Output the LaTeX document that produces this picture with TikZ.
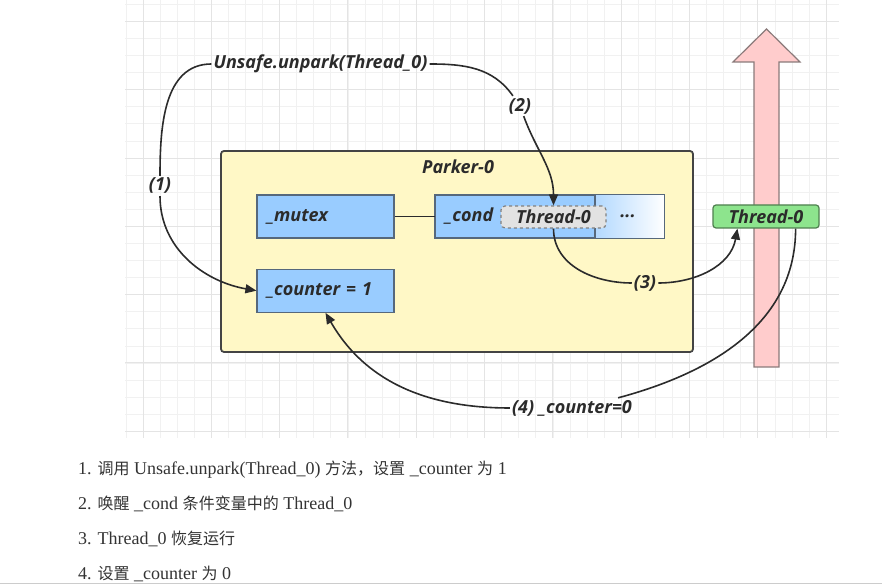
\documentclass[tikz,border=0pt]{standalone}
\usepackage{fontspec}
\setmainfont{Liberation Serif}
\newfontfamily\diafont{Open Sans}
\newfontfamily\cjk[Scale=0.89]{Noto Sans CJK SC}
\usetikzlibrary{positioning,arrows.meta}

\definecolor{gridminor}{HTML}{F1F1F1}
\definecolor{gridmajor}{HTML}{E4E4E4}
\definecolor{inkdark}{HTML}{2B2B2B}
\definecolor{boxline}{HTML}{444444}
\definecolor{parkeryellow}{HTML}{FFF8C6}
\definecolor{fieldblue}{HTML}{99CCFF}
\definecolor{fieldline}{HTML}{56687C}
\definecolor{waitgray}{HTML}{E2E2E2}
\definecolor{threadgreen}{HTML}{8DE48D}
\definecolor{greenline}{HTML}{4F7F4F}
\definecolor{lanepink}{HTML}{FFCCCC}
\definecolor{lanegray}{HTML}{8A7A7A}
\definecolor{notegray}{HTML}{333333}

\begin{document}
\begin{tikzpicture}[x=1pt,y=1pt,
    every node/.style={font=\diafont\bfseries\itshape\fontsize{18}{21}\selectfont, text=inkdark, inner sep=2pt},
    field/.style={draw=fieldline, fill=fieldblue, line width=1.2pt, minimum height=43pt,
      inner xsep=10pt, text width=#1, align=left},
    flow/.style={draw=inkdark, line width=1.6pt},
    flowtip/.style={-{Triangle[length=11pt,width=9pt]}},
    note/.style={font=\fontsize{18}{22}\selectfont, text=notegray, anchor=base west, inner sep=0pt}]

    \useasboundingbox (0,0) rectangle (882,585);

    % Background grid
    \foreach \k in {-1,...,40}
      \draw[gridminor, line width=0.8pt] ({143+\k*17.08},147) -- ({143+\k*17.08},585);
    \foreach \m in {-4,...,21}
      \draw[gridminor, line width=0.8pt] (125,{222+\m*17.08}) -- (839,{222+\m*17.08});
    \foreach \k in {0,4,...,40}
      \draw[gridmajor, line width=1pt] ({143+\k*17.08},147) -- ({143+\k*17.08},585);
    \foreach \m in {-4,0,...,20}
      \draw[gridmajor, line width=1pt] (125,{222+\m*17.08}) -- (839,{222+\m*17.08});

    % Thread lane
    \draw[fill=lanepink, draw=lanegray, line width=1.2pt]
      (754,218) -- (754,523) -- (733,523) -- (766.5,556) -- (800,523) -- (779,523) -- (779,218) -- cycle;

    % Parker
    \node[draw=boxline, fill=parkeryellow, line width=1.8pt, rounded corners=3pt,
      minimum width=472pt, minimum height=201pt] (parker) at (457,333.5) {};
    \node (ptitle) at (458,418) {Parker-0};

    \node[field=117pt] (mutex) at (325.5,368.5) {\_mutex};
    \node[field=117pt, below=30pt of mutex] (counter) {\_counter = 1};
    \node[field=209pt, right=40pt of mutex] (cond) {\_cond};
    \shade[left color=fieldblue!75!white, right color=white] (595,347) rectangle (cond.north east);
    \draw[fieldline, line width=1.2pt] (595,347) -- (595,390);
    \draw[fieldline, line width=1.2pt] (cond.north west) rectangle (cond.south east);
    \node[draw=gray, dashed, line width=1.2pt, fill=waitgray, rounded corners=4pt,
      minimum width=105pt, minimum height=22pt, inner sep=0pt] (waiter) at (553.5,368) {Thread-0};
    \node (dots) at (628,369) {...};
    \draw[flow] (mutex) -- (cond);

    \node[draw=greenline, fill=threadgreen, line width=1.2pt, rounded corners=3pt,
      minimum width=106pt, minimum height=23pt, inner sep=0pt] (thread) at (766,368.5) {Thread-0};

    % Steps
    \node (unpark) at (320.5,521) {Unsafe.unpark(Thread\_0)};
    \node (s1) at (160,399) {(1)};
    \node (s2) at (520,479) {(2)};
    \node (s3) at (645,302) {(3)};
    \node (s4) at (572,177) {(4) \_counter=0};

    \draw[flow] (unpark.west) to[out=180,in=90] (s1.north);
    \draw[flow,flowtip] (s1.south) to[out=-90,in=170] (counter.west);
    \draw[flow] (unpark.east) to[out=0,in=125] (s2);
    \draw[flow,flowtip] (s2) to[out=-70,in=90] (waiter.north);
    \draw[flow] (waiter.south) to[out=-90,in=180] (s3);
    \draw[flow,flowtip] (s3) to[out=0,in=-100] ([xshift=25pt]thread.south west);
    \draw[flow] ([xshift=-24pt]thread.south east) to[out=-90,in=15] ([xshift=-16pt]s4.north east);
    \draw[flow,flowtip] (s4.west) to[out=180,in=-60] (counter.south);

    % Notes
    \node[note] (n1) at (78,110) {1. {\cjk 调用} Unsafe.unpark(Thread\_0) {\cjk 方法，设置} \_counter {\cjk 为} 1};
    \node[note] (n2) at (78,75) {2. {\cjk 唤醒} \_cond {\cjk 条件变量中的} Thread\_0};
    \node[note] (n3) at (78,40) {3. Thread\_0 {\cjk 恢复运行}};
    \node[note] (n4) at (78,5) {4. {\cjk 设置} \_counter {\cjk 为} 0};
    \draw[gray!40, line width=1pt] (0,1) -- (882,1);
  \end{tikzpicture}
\end{document}
